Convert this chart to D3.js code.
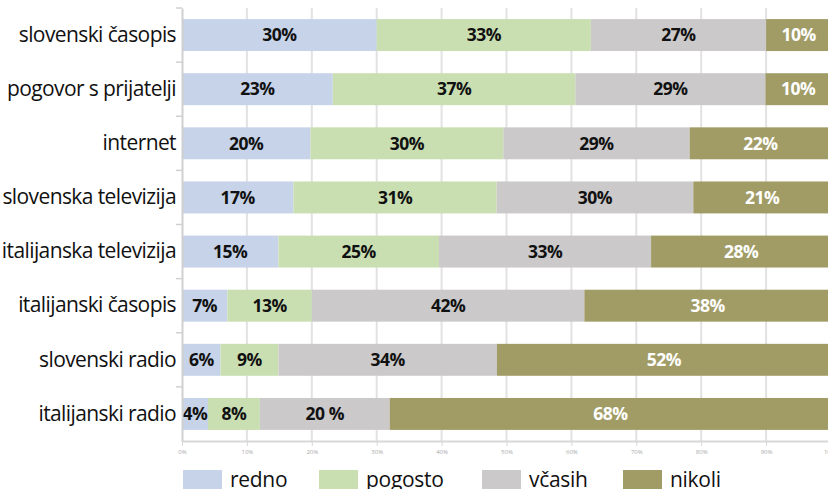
<!DOCTYPE html>
<html>
<head>
<meta charset="utf-8">
<script src="https://cdn.jsdelivr.net/npm/d3@7"></script>
<style>
  html, body { margin: 0; padding: 0; background: #fff; }
  svg { display: block; }
</style>
</head>
<body>
<svg id="chart" width="828" height="489"></svg>
<script>
const categories = [
  "slovenski časopis",
  "pogovor s prijatelji",
  "internet",
  "slovenska televizija",
  "italijanska televizija",
  "italijanski časopis",
  "slovenski radio",
  "italijanski radio"
];
const seriesNames = ["redno", "pogosto", "včasih", "nikoli"];
const redno   = [30, 23, 20, 17, 15, 7, 6, 4];
const pogosto = [33, 37, 30, 31, 25, 13, 9, 8];
const vcasih  = [27, 29, 29, 30, 33, 42, 34, 20];
const nikoli  = [10, 10, 22, 21, 28, 38, 52, 68];
const vcasihLabels = ["27%", "29%", "29%", "30%", "33%", "42%", "34%", "20 %"];
const tickValues = [0, 0.1, 0.2, 0.3, 0.4, 0.5, 0.6, 0.7, 0.8, 0.9, 1];
const colors = ["#c6d3e8", "#c9dfb1", "#cbc9ca", "#a19c66"];
const labelColors = ["#111", "#111", "#111", "#fff"];

const seriesValues = [redno, pogosto, vcasih, nikoli];
const table = categories.map((c, i) => {
  const row = { category: c };
  seriesNames.forEach((s, j) => row[s] = seriesValues[j][i]);
  return row;
});

const svg = d3.select("#chart");
const x = d3.scaleLinear().domain([0, 1]).range([182, 831]);
const y = d3.scaleBand().domain(categories).range([8, 441]).paddingInner(0.41).paddingOuter(0.205);

// gridlines
svg.append("g").selectAll("line").data(tickValues.slice(1)).join("line")
  .attr("x1", d => x(d)).attr("x2", d => x(d))
  .attr("y1", 8).attr("y2", 441)
  .attr("stroke", "#e2e2e2").attr("stroke-width", 2);

// stacked bars (100% stacked)
const stack = d3.stack().keys(seriesNames).offset(d3.stackOffsetExpand);
const stacked = stack(table);
const layers = svg.append("g").selectAll("g").data(stacked).join("g")
  .attr("fill", (d, i) => colors[i]);
layers.selectAll("rect").data(d => d).join("rect")
  .attr("x", d => x(d[0]))
  .attr("width", d => x(d[1]) - x(d[0]))
  .attr("y", d => y(d.data.category))
  .attr("height", y.bandwidth());

// value labels
const labelG = svg.append("g")
  .attr("font-family", "'Open Sans', sans-serif")
  .attr("font-weight", "bold")
  .attr("font-size", 17.5)
  .attr("text-anchor", "middle");
stacked.forEach((layer, i) => {
  labelG.selectAll(null).data(layer).join("text")
    .attr("x", d => (x(d[0]) + x(d[1])) / 2)
    .attr("y", d => y(d.data.category) + y.bandwidth() / 2)
    .attr("dy", "0.36em")
    .attr("fill", labelColors[i])
    .attr("letter-spacing", "-0.5")
    .text((d, k) => i === 2 ? vcasihLabels[k] : seriesValues[i][k] + "%");
});

// left axis
const yAxis = d3.axisLeft(y).tickSize(0).tickPadding(6).tickSizeOuter(0);
const yg = svg.append("g").attr("transform", "translate(182,0)").call(yAxis);
yg.select(".domain").attr("stroke", "#d0d0d0").attr("stroke-width", 2);
yg.selectAll("text")
  .attr("font-family", "'Open Sans', sans-serif")
  .attr("font-size", 21)
  .attr("fill", "#111")
  .attr("letter-spacing", "-0.6");
// band boundary ticks on left axis
const bounds = categories.slice(1).map(c => y(c) - y.step() * y.paddingInner() / 2);
svg.append("g").selectAll("line").data([8].concat(bounds)).join("line")
  .attr("x1", 176).attr("x2", 182)
  .attr("y1", d => d).attr("y2", d => d)
  .attr("stroke", "#d0d0d0").attr("stroke-width", 1.5);

// bottom axis
const xAxis = d3.axisBottom(x).tickValues(tickValues).tickFormat(d3.format(".0%")).tickSize(5).tickSizeOuter(0).tickPadding(4);
const xg = svg.append("g").attr("transform", "translate(0,441)").call(xAxis);
xg.select(".domain").attr("stroke", "#d8d8d8").attr("stroke-width", 2);
xg.selectAll(".tick line").attr("stroke", "#d8d8d8");
xg.selectAll("text")
  .attr("font-family", "'Open Sans', sans-serif")
  .attr("font-size", 6)
  .attr("fill", "#aaa");

// legend
const legendX = [183, 319, 482, 623];
const lg = svg.append("g").selectAll("g").data(seriesNames).join("g")
  .attr("transform", (d, i) => `translate(${legendX[i]},470)`);
lg.append("rect").attr("width", 39).attr("height", 20).attr("fill", (d, i) => colors[i]);
lg.append("text").attr("x", 47).attr("y", 17)
  .attr("font-family", "'Open Sans', sans-serif")
  .attr("font-size", 21)
  .attr("fill", "#111")
  .attr("letter-spacing", "-0.3")
  .text(d => d);
</script>
</body>
</html>
